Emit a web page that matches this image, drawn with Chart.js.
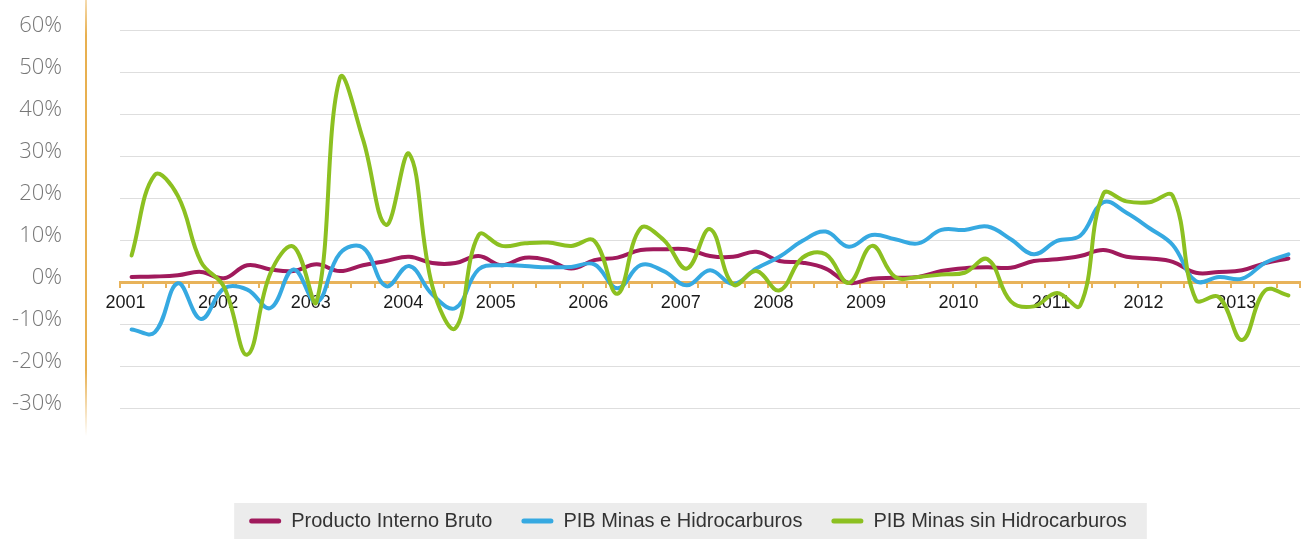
<!DOCTYPE html>
<html><head><meta charset="utf-8">
<script src="https://cdn.jsdelivr.net/npm/chart.js@4.4.0/dist/chart.umd.min.js"></script>
<style>html,body{margin:0;padding:0;background:#fff;overflow:hidden}#wrap{width:1303px;height:539px;position:relative}</style>
</head><body><div id="wrap"><canvas id="c" width="1303" height="539"></canvas></div>
<script>
const years = ['2001','2002','2003','2004','2005','2006','2007','2008','2009','2010','2011','2012','2013'];
const quarters = ['I','II','III','IV'];
const seriesNames = ['Producto Interno Bruto','PIB Minas e Hidrocarburos','PIB Minas sin Hidrocarburos'];
const pib = [1.2,1.3,1.6,2.4,0.9,4.0,3.0,2.6,4.2,2.6,
             4.0,5.0,6.0,4.5,4.5,6.2,4.0,5.8,5.2,3.2,
             5.2,5.8,7.6,7.8,7.8,6.2,6.0,7.2,5.0,4.6,
             3.2,-0.2,0.8,1.0,1.2,2.6,3.3,3.5,3.4,5.0,
             5.4,6.2,7.6,6.0,5.6,4.8,2.2,2.4,2.8,4.5,5.6];
const minasHidro = [-11.3,-12.0,-0.3,-8.8,-1.5,-1.8,-6.2,3.0,-4.8,6.8,
                    8.2,-1.0,3.8,-3.0,-6.2,3.0,4.0,3.8,3.5,3.6,
                    4.2,-1.5,4.0,2.6,-0.8,2.8,-0.5,3.2,6.0,9.8,
                    12.0,8.4,11.2,10.2,9.2,12.4,12.4,13.2,10.2,6.6,
                    9.8,11.0,19.0,16.5,12.8,8.8,0.2,1.2,0.8,4.6,6.6];
const minasSinHidro = [6.3,25.5,20.5,4.8,-1.2,-17.3,2.1,8.4,-4.6,48.5,
                       34.0,13.6,30.5,-1.0,-11.0,11.2,8.6,9.2,9.4,8.6,
                       9.8,-2.8,12.8,10.0,3.2,12.6,-0.6,2.6,-2.0,5.8,
                       6.6,-0.2,8.6,1.2,1.2,1.8,2.2,5.4,-4.6,-5.8,
                       -2.6,-5.6,21.0,19.2,19.0,20.5,-4.2,-3.6,-13.8,-2.0,-3.2];
const yMin = -30, yMax = 60, yStep = 10;

const categories = [];
years.forEach(y => quarters.forEach(q => categories.push(y + ' ' + q)));
categories.length = pib.length;

const COLORS = ['#a01a5c', '#36a9e1', '#8cc021'];
const ORANGE = '#e8b35a';

const legendBg = {
  id: 'legendBg',
  afterLayout(chart) {
    const lg = chart.legend;
    const h = lg.height;
    lg.top = 482; lg.bottom = 482 + h;
    lg.left = 76; lg.right = 1300;
  },
  beforeDraw(chart) {
    const lg = chart.legend;
    if (!lg || !lg.legendHitBoxes || !lg.legendHitBoxes.length) return;
    const hb = lg.legendHitBoxes;
    let l = Infinity, r = -Infinity;
    hb.forEach(h => { l = Math.min(l, h.left); r = Math.max(r, h.left + h.width); });
    const ctx = chart.ctx;
    ctx.save();
    ctx.fillStyle = '#ececec';
    ctx.fillRect(l - 15, 503, (r + 20) - (l - 15), 36);
    ctx.restore();
    ctx.save();
    const g = ctx.createLinearGradient(0, 0, 0, 436);
    g.addColorStop(0, 'rgba(232,176,80,0.45)');
    g.addColorStop(0.08, 'rgba(232,176,80,1)');
    g.addColorStop(0.85, 'rgba(232,176,80,1)');
    g.addColorStop(1, 'rgba(232,176,80,0)');
    ctx.strokeStyle = g;
    ctx.lineWidth = 2;
    ctx.beginPath(); ctx.moveTo(86, 0); ctx.lineTo(86, 436); ctx.stroke();
    ctx.restore();
  }
};

const mk = (i, data, order) => ({
  label: seriesNames[i], data, borderColor: COLORS[i], backgroundColor: COLORS[i],
  borderWidth: 4, pointRadius: 0, pointHoverRadius: 0, tension: 0.4, fill: false,
  borderCapStyle: 'round', borderJoinStyle: 'round', order
});

new Chart(document.getElementById('c'), {
  type: 'line',
  data: {
    labels: categories,
    datasets: [mk(0, pib, 3), mk(1, minasHidro, 2), mk(2, minasSinHidro, 1)]
  },
  options: {
    responsive: false, animation: false, devicePixelRatio: 1,
    layout: { padding: { top: 30, right: 3, bottom: 72, left: 0 } },
    plugins: {
      tooltip: { enabled: false },
      legend: {
        position: 'bottom',
        labels: {
          boxWidth: 32, boxHeight: 5, useBorderRadius: true, borderRadius: 2.5,
          padding: 29, color: '#333',
          font: { family: "'Liberation Sans', sans-serif", size: 20 },
          sort: (a, b) => a.datasetIndex - b.datasetIndex,
          generateLabels: (chart) => Chart.defaults.plugins.legend.labels.generateLabels(chart).map(it => Object.assign(it, { lineWidth: 0, strokeStyle: 'rgba(0,0,0,0)' }))
        }
      }
    },
    scales: {
      x: {
        type: 'category', position: { y: 0 }, offset: true,
        afterFit: s => { s.height = 0; },
        grid: { offset: true, drawOnChartArea: false, drawTicks: true, tickLength: 4, color: ORANGE, lineWidth: 2 },
        border: { display: true, color: ORANGE, width: 3 },
        ticks: {
          autoSkip: false, maxRotation: 0, minRotation: 0, padding: 6, labelOffset: -6,
          color: '#1a1a1a',
          font: { family: "'Liberation Sans', sans-serif", size: 18 },
          callback: (v, i) => (i % 4 === 0 ? years[i / 4] : '')
        }
      },
      y: {
        min: yMin, max: yMax,
        afterFit: s => { s.width = 120; },
        grid: { color: '#dedede', lineWidth: 1, drawTicks: true, tickLength: 54, tickColor: 'rgba(0,0,0,0)' },
        border: { display: false },
        ticks: {
          stepSize: yStep, padding: 4, labelOffset: -4, color: '#777',
          font: { family: "'Open Sans', sans-serif", size: 22, weight: 300 },
          callback: v => v + '%'
        }
      }
    }
  },
  plugins: [legendBg]
});
</script></body></html>
